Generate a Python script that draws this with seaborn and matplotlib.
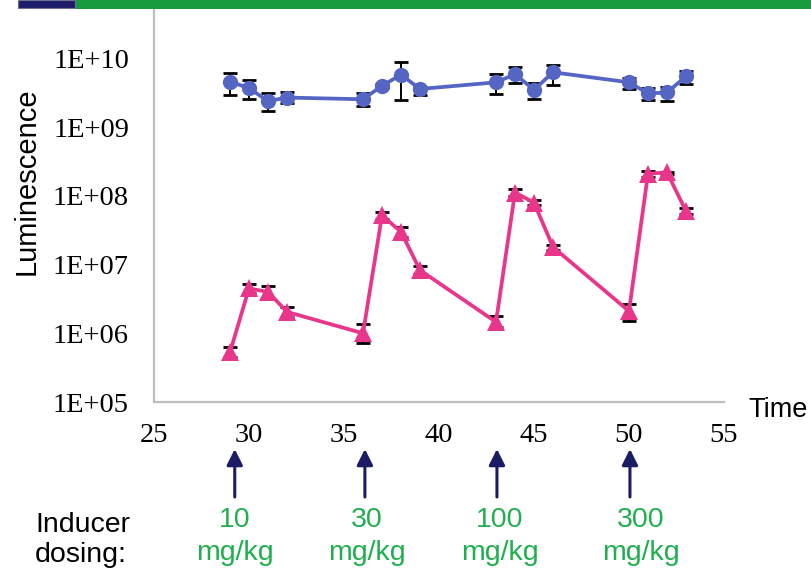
import numpy as np
import pandas as pd
import matplotlib
matplotlib.use("Agg")
import matplotlib.pyplot as plt
import matplotlib.transforms as mtransforms
from matplotlib.patches import Rectangle
from matplotlib.ticker import FixedLocator, FuncFormatter, NullLocator
import seaborn as sns

# Data
days = [29, 30, 31, 32, 36, 37, 38, 39, 43, 44, 45, 46, 50, 51, 52, 53]

blue_vals = [4.6e9, 3.7e9, 2.4e9, 2.7e9, 2.55e9, 4.0e9, 5.8e9, 3.6e9,
             4.5e9, 5.9e9, 3.5e9, 6.3e9, 4.5e9, 3.1e9, 3.2e9, 5.5e9]
blue_hi = [6.2e9, 4.8e9, 3.1e9, 3.3e9, 3.1e9, 4.3e9, 8.8e9, 3.9e9,
           6.0e9, 7.5e9, 4.35e9, 8.1e9, 5.25e9, 3.7e9, 3.8e9, 6.65e9]
blue_lo = [2.95e9, 2.6e9, 1.7e9, 2.25e9, 2.05e9, 3.7e9, 2.5e9, 2.95e9,
           3.05e9, 4.35e9, 2.6e9, 4.15e9, 3.6e9, 2.5e9, 2.4e9, 4.2e9]

pink_vals = [5.3e5, 4.5e6, 4.0e6, 2.05e6, 1.0e6, 5.2e7, 3.0e7, 8.3e6,
             1.46e6, 1.12e8, 8.0e7, 1.8e7, 2.1e6, 2.1e8, 2.2e8, 6.0e7]
pink_hi = [6.3e5, 5.2e6, 4.9e6, 2.4e6, 1.35e6, 5.9e7, 3.55e7, 9.4e6,
           1.78e6, 1.26e8, 8.7e7, 1.95e7, 2.7e6, 2.3e8, 2.25e8, 6.75e7]
pink_lo = [4.5e5, 3.9e6, 3.3e6, 1.75e6, 0.72e6, 4.6e7, 2.5e7, 7.3e6,
           1.25e6, 1.0e8, 7.3e7, 1.65e7, 1.5e6, 1.9e8, 2.1e8, 5.4e7]

dose_days = [29.25, 36.1, 43.05, 50.05]
dose_labels = ["10", "30", "100", "300"]
dose_label_x = [29.25, 36.2, 43.2, 50.6]

y_ticks = [1e5, 1e6, 1e7, 1e8, 1e9, 1e10]
x_ticks = [25, 30, 35, 40, 45, 50, 55]

blue = "#5565c4"
pink = "#e8378a"
green = "#1faf4f"
navy = "#1c1c64"
grey = "#bfbfbf"

df = pd.DataFrame({"day": days, "blue": blue_vals, "pink": pink_vals})

sns.set_style("white")
plt.rcParams["font.family"] = ["Liberation Sans", "DejaVu Sans"]

fig = plt.figure(figsize=(8.11, 5.70), dpi=100)
W, H = 811, 570
ax = fig.add_axes([154 / W, 1 - 402 / H, (724 - 154) / W, (402 - 9) / H])

# error bars first, markers sit on top of them
bv = np.array(blue_vals)
pv = np.array(pink_vals)
ax.errorbar(days, bv, yerr=[bv - np.array(blue_lo), np.array(blue_hi) - bv],
            fmt="none", ecolor="black", elinewidth=1.4, capsize=5, capthick=2, zorder=2)
ax.errorbar(days, pv, yerr=[pv - np.array(pink_lo), np.array(pink_hi) - pv],
            fmt="none", ecolor="black", elinewidth=1.4, capsize=5, capthick=2, zorder=2)

sns.lineplot(data=df, x="day", y="blue", ax=ax, color=blue, marker="o",
             markersize=11, markeredgewidth=0, linewidth=2.7, zorder=3)
sns.lineplot(data=df, x="day", y="pink", ax=ax, color=pink, marker="^",
             markersize=13, markeredgewidth=0, linewidth=2.7, zorder=3)

ax.set_yscale("log")
ax.set_ylim(1e5, 10 ** (5 + 393 / 68.7))
ax.set_xlim(25, 55)
ax.yaxis.set_major_locator(FixedLocator(y_ticks))
ax.yaxis.set_minor_locator(NullLocator())
ax.yaxis.set_major_formatter(FuncFormatter(lambda v, _: "1E+%02d" % int(round(np.log10(v)))))
ax.xaxis.set_major_locator(FixedLocator(x_ticks))
ax.set_xlabel("")
ax.set_ylabel("")

for side in ["top", "right"]:
    ax.spines[side].set_visible(False)
for side in ["left", "bottom"]:
    ax.spines[side].set_color(grey)
    ax.spines[side].set_linewidth(1.6)

ax.tick_params(axis="both", which="major", direction="out", color=grey,
               width=1.6, length=6, labelsize=20.5, labelcolor="black")
ax.tick_params(axis="y", pad=12)
ax.tick_params(axis="x", pad=9)
for lab in ax.get_xticklabels() + ax.get_yticklabels():
    lab.set_fontfamily("Liberation Serif")

fig.text(27 / W, 1 - 181 / H, "Luminescence", rotation=90, ha="center", va="center",
         fontsize=21, color="black")
fig.text(748 / W, 1 - 417 / H, "Time", ha="left", va="baseline", fontsize=19.5, color="black")

# Inducer dosing arrows and labels below the axis
trans = mtransforms.blended_transform_factory(ax.transData, fig.transFigure)
for d in dose_days:
    ax.annotate("", xy=(d, 1 - 449 / H), xytext=(d, 1 - 497 / H),
                xycoords=trans, textcoords=trans, annotation_clip=False,
                arrowprops=dict(arrowstyle="-|>", color=navy, lw=2.2,
                                mutation_scale=24, shrinkA=0, shrinkB=0))
for lx, lab in zip(dose_label_x, dose_labels):
    ax.text(lx, 1 - 527 / H, lab, transform=trans, ha="center", va="baseline",
            fontsize=20.5, color=green)
    ax.text(lx, 1 - 560 / H, "mg/kg", transform=trans, ha="center", va="baseline",
            fontsize=20.5, color=green)
fig.text(35 / W, 1 - 532 / H, "Inducer", ha="left", va="baseline", fontsize=20.5, color="black")
fig.text(35 / W, 1 - 562 / H, "dosing:", ha="left", va="baseline", fontsize=20.5, color="black")

# slide header strip at the top
fig.patches.append(Rectangle((75 / W, 1 - 9 / H), 1 - 75 / W, 9 / H,
                             transform=fig.transFigure, facecolor="#189a3e",
                             edgecolor="none", zorder=5))
fig.patches.append(Rectangle((18 / W, 1 - 8 / H), 57 / W, 8 / H,
                             transform=fig.transFigure, facecolor="#1c1c6a",
                             edgecolor="#6f7090", linewidth=0.8, zorder=6))

fig.savefig("out.png", dpi=100)
